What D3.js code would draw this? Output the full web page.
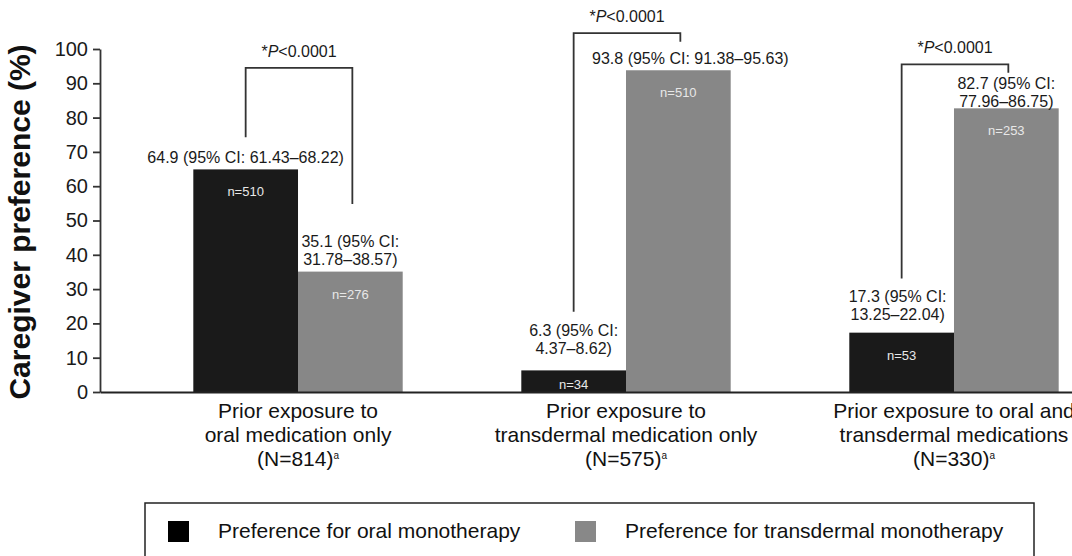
<!DOCTYPE html>
<html>
<head>
<meta charset="utf-8">
<script src="https://cdn.jsdelivr.net/npm/d3@7"></script>
<style>
  html, body { margin: 0; padding: 0; background: #fff; }
  svg { display: block; font-family: "Liberation Sans", Arial, Helvetica, sans-serif; }
</style>
</head>
<body>
<svg id="chart" width="1072" height="556"></svg>
<script>
// ---- data ----
const categories = ["oral", "transdermal", "both"];
const categoryLines = [
  ["Prior exposure to", "oral medication only", "(N=814)"],
  ["Prior exposure to", "transdermal medication only", "(N=575)"],
  ["Prior exposure to oral and", "transdermal medications", "(N=330)"]
];
const seriesKeys = ["oralPref", "transPref"];
const seriesNames = ["Preference for oral monotherapy", "Preference for transdermal monotherapy"];
const oralValues = [64.9, 6.3, 17.3];
const transdermalValues = [35.1, 93.8, 82.7];
const oralN = [510, 34, 53];
const transdermalN = [276, 510, 253];
const oralCI = ["61.43–68.22", "4.37–8.62", "13.25–22.04"];
const transdermalCI = ["31.78–38.57", "91.38–95.63", "77.96–86.75"];
const pValues = ["<0.0001", "<0.0001", "<0.0001"];
const yTicks = [0, 10, 20, 30, 40, 50, 60, 70, 80, 90, 100];

// ---- layout (not data) ----
const labelWrap = [[false, true], [true, false], [true, true]];
const labelGap = [[6, 7], [16, 6], [13, 1]];
const labelDx = [[0, 0], [0, 12], [-4, 0]];
// bracket levels in axis units: [top, left end, right end]
const bracketLevels = [[94.5, 74.3, 54.8], [104.6, 23.4, 102.1], [95.5, 33.1, 93.1]];
const colors = { oralPref: "#1a1a1a", transPref: "#878787" };
const swatchColors = { oralPref: "#000000", transPref: "#888888" };

const svg = d3.select("#chart");
svg.append("rect").attr("width", 1072).attr("height", 556).attr("fill", "#fff");

const x0 = d3.scaleBand().domain(categories).range([100, 1152])
  .paddingInner(0.3616).paddingOuter(0.2845);
const x1 = d3.scaleBand().domain(seriesKeys).range([0, x0.bandwidth()]);
const y = d3.scaleLinear().domain([0, 100]).range([392, 49]);

const rows = categories.flatMap((c, i) => [
  { c, i, j: 0, s: "oralPref", v: oralValues[i], n: oralN[i], ci: oralCI[i] },
  { c, i, j: 1, s: "transPref", v: transdermalValues[i], n: transdermalN[i], ci: transdermalCI[i] }
]);

// bars
svg.append("g").selectAll("rect").data(rows).join("rect")
  .attr("x", d => x0(d.c) + x1(d.s))
  .attr("y", d => y(d.v))
  .attr("width", x1.bandwidth())
  .attr("height", d => y(0) - y(d.v))
  .attr("fill", d => colors[d.s]);

// n labels inside bars
svg.append("g").selectAll("text").data(rows).join("text")
  .attr("x", d => x0(d.c) + x1(d.s) + x1.bandwidth() / 2)
  .attr("y", d => Math.min(y(d.v) + 27, y(0) - 3))
  .attr("text-anchor", "middle")
  .attr("font-size", 13)
  .attr("fill", "#e8e8e8")
  .text(d => "n=" + d.n);

// value labels above bars
const valG = svg.append("g").attr("font-size", 16).attr("fill", "#1a1a1a");
rows.forEach(d => {
  const cx = x0(d.c) + x1(d.s) + x1.bandwidth() / 2 + labelDx[d.i][d.j];
  const base = y(d.v) - labelGap[d.i][d.j];
  const head = d.v.toFixed(1) + " (95% CI:";
  const t = valG.append("text").attr("text-anchor", "middle").attr("x", cx);
  if (labelWrap[d.i][d.j]) {
    t.attr("y", base - 18);
    t.append("tspan").attr("x", cx).text(head);
    t.append("tspan").attr("x", cx).attr("dy", 18).text(d.ci + ")");
  } else {
    t.attr("y", base).text(head + " " + d.ci + ")");
  }
});

// axes
const yAxis = d3.axisLeft(y).tickValues(yTicks).tickSize(7).tickSizeOuter(0).tickPadding(5);
const gy = svg.append("g").attr("transform", "translate(100,0)").call(yAxis);
gy.select(".domain").attr("stroke", "#333").attr("stroke-width", 1.8);
gy.selectAll(".tick line").attr("stroke", "#333").attr("stroke-width", 1.8);
gy.selectAll(".tick text").attr("font-size", 20).attr("fill", "#1a1a1a")
  .attr("font-family", "'Liberation Sans', Arial, sans-serif");

const xAxis = d3.axisBottom(x0).tickSize(0).tickSizeOuter(0).tickFormat("");
const gx = svg.append("g").attr("transform", `translate(0,${y(0)})`).call(xAxis);
gx.select(".domain").attr("stroke", "#222").attr("stroke-width", 1.8);

// category labels
const catG = svg.append("g").attr("font-size", 21).attr("fill", "#111");
categories.forEach((c, i) => {
  const cx = x0(c) + x0.bandwidth() / 2;
  const t = catG.append("text").attr("text-anchor", "middle").attr("x", cx).attr("y", 418);
  categoryLines[i].forEach((line, k) => {
    t.append("tspan").attr("x", cx).attr("dy", k === 0 ? 0 : 24).text(line);
    if (k === 2) {
      t.append("tspan").attr("font-size", 10).attr("dy", -7).text("a");
    }
  });
});

// significance brackets
const brG = svg.append("g");
categories.forEach((c, i) => {
  const xl = x0(c) + x1("oralPref") + x1.bandwidth() / 2;
  const xr = x0(c) + x1("transPref") + x1.bandwidth() / 2 + 2;
  const [top, le, re] = bracketLevels[i];
  brG.append("path")
    .attr("d", `M${xl},${y(le)}V${y(top)}H${xr}V${y(re)}`)
    .attr("fill", "none").attr("stroke", "#333").attr("stroke-width", 1.8);
  const t = brG.append("text").attr("x", (xl + xr) / 2).attr("y", y(top) - 11)
    .attr("text-anchor", "middle").attr("font-size", 16).attr("fill", "#1a1a1a");
  t.append("tspan").text("*");
  t.append("tspan").attr("font-style", "italic").text("P");
  t.append("tspan").text(pValues[i]);
});

// y-axis title
svg.append("text")
  .attr("transform", "translate(30,222) rotate(-90)")
  .attr("text-anchor", "middle")
  .attr("font-size", 30).attr("font-weight", "bold").attr("fill", "#111")
  .text("Caregiver preference (%)");

// legend
const lg = svg.append("g");
lg.append("rect").attr("x", 145).attr("y", 503).attr("width", 889).attr("height", 80)
  .attr("fill", "none").attr("stroke", "#222").attr("stroke-width", 1.5);
const legendX = [168, 575];
seriesKeys.forEach((k, i) => {
  lg.append("rect").attr("x", legendX[i]).attr("y", 521).attr("width", 21).attr("height", 21)
    .attr("fill", swatchColors[k]);
  lg.append("text").attr("x", legendX[i] + 50).attr("y", 538)
    .attr("font-size", 21).attr("fill", "#111").text(seriesNames[i]);
});
</script>
</body>
</html>
